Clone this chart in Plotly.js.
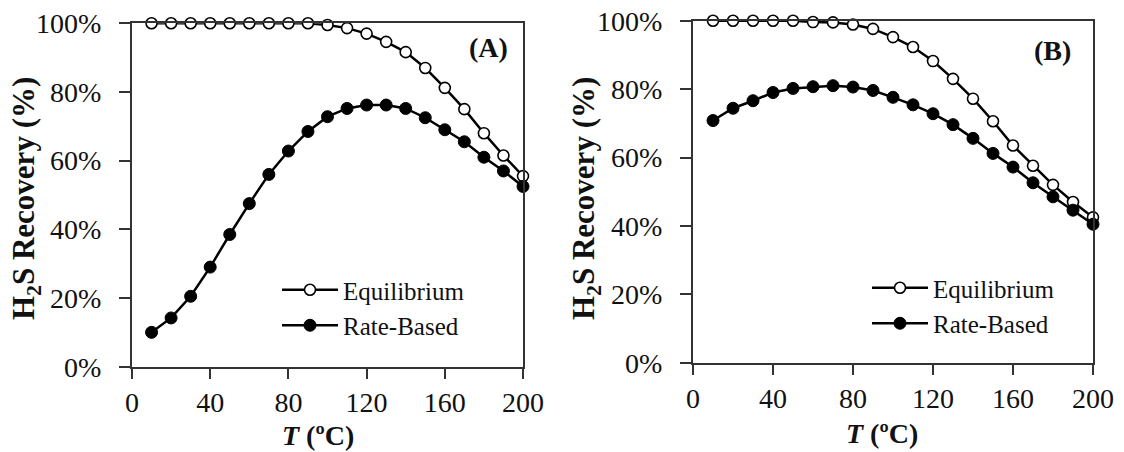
<!DOCTYPE html>
<html>
<head>
<meta charset="utf-8">
<script src="https://cdn.plot.ly/plotly-3.0.1.min.js"></script>
<style>html,body{margin:0;padding:0;background:#fff;}#chart{width:1124px;height:452px;}</style>
</head>
<body>
<div id="chart"></div>
<script>
// Temperature (°C)
const temperature = [10, 20, 30, 40, 50, 60, 70, 80, 90, 100, 110, 120, 130, 140, 150, 160, 170, 180, 190, 200];
// Panel (A) H2S recovery (%)
const eqA   = [100, 100, 100, 100, 100, 100, 100, 100, 100, 99.5, 98.6, 97, 94.6, 91.6, 87, 81.2, 75, 68, 61.5, 55.5];
const rateA = [10, 14.2, 20.5, 29, 38.5, 47.5, 56, 62.8, 68.5, 72.8, 75.2, 76.2, 76.2, 75.2, 72.5, 69, 65.5, 61, 57, 52.5];
// Panel (B) H2S recovery (%)
const eqB   = [100, 100, 100, 100, 100, 99.6, 99.5, 98.9, 97.6, 95.2, 92.3, 88.2, 83, 77.2, 70.6, 63.5, 57.6, 52, 47, 42.5];
const rateB = [70.8, 74.4, 76.6, 79, 80.2, 80.7, 81, 80.6, 79.6, 77.6, 75.4, 72.8, 69.6, 65.6, 61.2, 57.2, 52.6, 48.5, 44.6, 40.5];
const seriesNames = ["Equilibrium", "Rate-Based"];
const panelLabels = ["(A)", "(B)"];
const xTitle = "<i>T</i> (ºC)";
const yTitle = "H<sub>2</sub>S Recovery (%)";
const xTicks = [0, 40, 80, 120, 160, 200];
const yTicks = [0, 20, 40, 60, 80, 100];

const FONT = "Liberation Serif";
const W = 1124, H = 452;

function eqTrace(y, xa, ya, lg) {
  return {x: temperature, y: y, xaxis: xa, yaxis: ya, legend: lg, name: seriesNames[0],
    type: "scatter", mode: "lines+markers", cliponaxis: false,
    line: {color: "#000", width: 2.5},
    marker: {symbol: "circle", size: 11, color: "#fff", line: {color: "#000", width: 1.6}}};
}
function rateTrace(y, xa, ya, lg) {
  return {x: temperature, y: y, xaxis: xa, yaxis: ya, legend: lg, name: seriesNames[1],
    type: "scatter", mode: "lines+markers", cliponaxis: false,
    line: {color: "#000", width: 2.5},
    marker: {symbol: "circle", size: 12, color: "#000", line: {color: "#000", width: 1}}};
}

const data = [
  eqTrace(eqA, "x", "y", "legend"),
  rateTrace(rateA, "x", "y", "legend"),
  eqTrace(eqB, "x2", "y2", "legend2"),
  rateTrace(rateB, "x2", "y2", "legend2")
];

function xAxis(domain, anchor) {
  return {domain: domain, anchor: anchor, range: [0, 200], tickvals: xTicks, ticktext: xTicks.map(String),
    showgrid: false, zeroline: false, showline: true, mirror: true, linecolor: "#333", linewidth: 2,
    ticks: "outside", ticklen: 10, tickwidth: 2, tickcolor: "#333",
    tickfont: {family: FONT, size: 28, color: "#111"}, automargin: false};
}
function yAxis(domain, anchor) {
  return {domain: domain, anchor: anchor, range: [0, 100], tickvals: yTicks, ticktext: yTicks.map(v => v + "%"),
    showgrid: false, zeroline: false, showline: true, mirror: true, linecolor: "#333", linewidth: 2,
    ticks: "outside", ticklen: 11, tickwidth: 2, tickcolor: "#333", ticklabelstandoff: 12,
    tickfont: {family: FONT, size: 28, color: "#111"}, automargin: false};
}

function legendCfg(xpx, ypx) {
  return {x: xpx / W, y: 1 - ypx / H, xanchor: "left", yanchor: "top", bgcolor: "rgba(0,0,0,0)",
    font: {family: FONT, size: 25, color: "#111"}, itemwidth: 56, tracegroupgap: 0};
}

function label(text, xpx, ypx, size, angle) {
  return {text: "<b>" + text + "</b>", xref: "paper", yref: "paper", x: xpx / W, y: 1 - ypx / H,
    xanchor: "center", yanchor: "middle", showarrow: false, textangle: angle || 0,
    font: {family: FONT, size: size, color: "#111"}};
}

const layout = {
  width: W, height: H,
  margin: {l: 0, r: 0, t: 0, b: 0},
  font: {family: FONT, size: 25, color: "#111"},
  paper_bgcolor: "#fff", plot_bgcolor: "#fff",
  showlegend: true,
  xaxis: xAxis([132 / W, 523 / W], "y"),
  yaxis: yAxis([1 - 366.7 / H, 1 - 23.3 / H], "x"),
  xaxis2: xAxis([693 / W, 1093 / W], "y2"),
  yaxis2: yAxis([1 - 362.7 / H, 1 - 20.7 / H], "x2"),
  legend: legendCfg(277, 267),
  legend2: legendCfg(867, 265),
  annotations: [
    label(panelLabels[0], 488, 48, 28),
    label(panelLabels[1], 1052, 50, 28),
    label(xTitle, 318, 435, 28),
    label(xTitle, 882, 433, 28),
    label(yTitle, 26, 199, 31, -90),
    label(yTitle, 586, 199, 31, -90)
  ]
};

Plotly.newPlot("chart", data, layout, {staticPlot: true, displayModeBar: false});
</script>
</body>
</html>
